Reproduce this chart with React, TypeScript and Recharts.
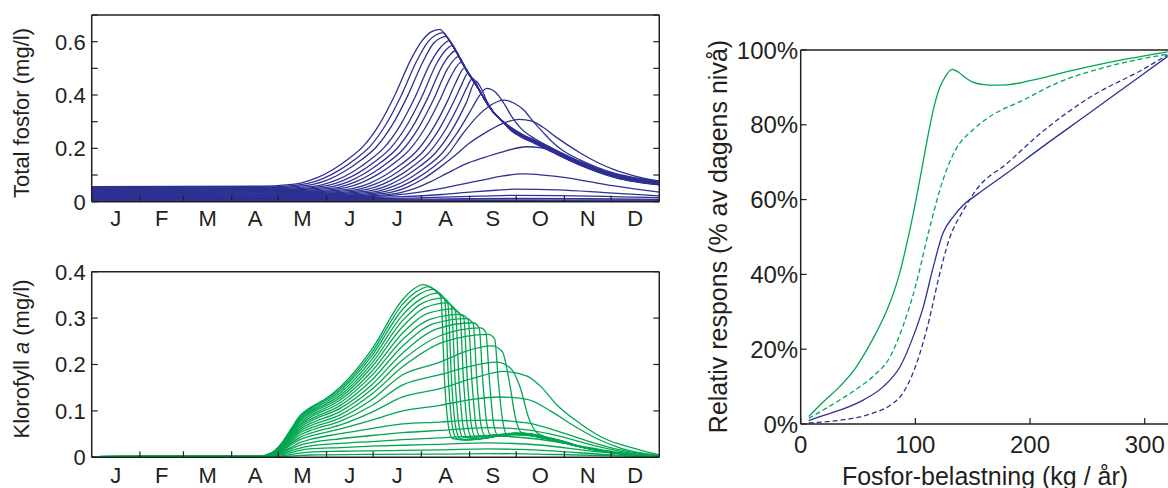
import { LineChart, Line, XAxis, YAxis } from 'recharts';

const BLUE = '#2E3192';
const GREEN = '#00A651';
const INK = '#231F20';
const FONT = '"Liberation Sans", Arial, Helvetica, sans-serif';

const monthLetters = ['J', 'F', 'M', 'A', 'M', 'J', 'J', 'A', 'S', 'O', 'N', 'D'];
const monthEdges = [31, 59, 90, 120, 151, 181, 212, 243, 273, 304, 334];
const monthMids = [15.5, 45, 74.5, 105, 135.5, 166, 196.5, 227.5, 258, 288.5, 319, 349.5];
const monthTicks = [...monthEdges, ...monthMids].sort((a, b) => a - b);

const fosforTicks = [0, 0.1, 0.2, 0.3, 0.4, 0.5, 0.6, 0.7];
const fosforLabels = [0, 0.2, 0.4, 0.6];
const klorofyllTicks = [0, 0.1, 0.2, 0.3, 0.4];
const responsTicks = [0, 20, 40, 60, 80, 100];
const belastningTicks = [0, 100, 200, 300];

// total fosfor (mg/l), [dag, värde], one array per belastning
const fosforCurves: [number, number][][] = [
  [[0,.056],[110,.058],[125,.063],[135,.071],[145,.090],[155,.120],[165,.160],[175,.210],[185,.290],[195,.400],[205,.530],[212,.600],[218,.636],[224,.646],[228,.620],[232,.586],[236,.545],[240,.503],[244,.465],[248,.430],[252,.390],[256,.353],[260,.325],[265,.298],[270,.277],[276,.255],[285,.230],[293,.207],[303,.178],[314,.149],[325,.124],[336,.103],[350,.086],[365,.075]],
  [[0,.0535],[114,.0555],[129,.0605],[139,.0685],[149,.0875],[159,.1175],[169,.1575],[179,.2075],[189,.2875],[199,.3975],[209,.5275],[216,.5975],[221,.624],[226,.634],[230,.604],[234,.566],[238,.524],[242,.482],[246,.450],[250,.410],[254,.370],[258,.338],[263,.308],[270,.276],[276,.254],[285,.229],[293,.206],[303,.177],[314,.148],[325,.123],[336,.102],[350,.085],[365,.074]],
  [[0,.051],[118,.053],[133,.058],[143,.066],[153,.085],[163,.115],[173,.155],[183,.205],[193,.285],[203,.395],[213,.525],[220,.595],[224,.613],[228,.620],[232,.586],[236,.545],[240,.503],[244,.465],[248,.430],[252,.390],[256,.353],[260,.325],[265,.298],[270,.275],[276,.253],[285,.228],[293,.205],[303,.176],[314,.147],[325,.122],[336,.101],[350,.084],[365,.073]],
  [[0,.0485],[123,.0505],[138,.0555],[148,.0635],[158,.0825],[168,.1125],[178,.1525],[188,.2025],[198,.2825],[208,.3925],[218,.5225],[225,.583],[230,.604],[234,.566],[238,.524],[242,.482],[246,.450],[250,.410],[254,.370],[258,.338],[263,.308],[270,.273],[276,.251],[285,.226],[293,.203],[303,.174],[314,.145],[325,.120],[336,.099],[350,.082],[365,.071]],
  [[0,.046],[127,.048],[142,.053],[152,.061],[162,.080],[172,.110],[182,.150],[192,.200],[202,.280],[212,.390],[222,.520],[227,.564],[232,.586],[236,.545],[240,.503],[244,.465],[248,.430],[252,.390],[256,.353],[260,.325],[265,.298],[270,.272],[276,.250],[285,.225],[293,.202],[303,.173],[314,.144],[325,.119],[336,.098],[350,.081],[365,.070]],
  [[0,.0435],[131,.0455],[146,.0505],[156,.0585],[166,.0775],[176,.1075],[186,.1475],[196,.1975],[206,.2775],[216,.3875],[226,.515],[230,.548],[234,.566],[238,.524],[242,.482],[246,.450],[250,.410],[254,.370],[258,.338],[263,.308],[270,.271],[276,.249],[285,.224],[293,.201],[303,.172],[314,.143],[325,.118],[336,.097],[350,.080],[365,.069]],
  [[0,.041],[135,.043],[150,.048],[160,.056],[170,.075],[180,.105],[190,.145],[200,.195],[210,.275],[220,.385],[229,.500],[236,.545],[240,.503],[244,.465],[248,.430],[252,.390],[256,.353],[260,.325],[265,.298],[270,.270],[276,.248],[285,.223],[293,.200],[303,.171],[314,.142],[325,.117],[336,.096],[350,.079],[365,.068]],
  [[0,.0385],[139,.0405],[154,.0455],[164,.0535],[174,.0725],[184,.1025],[194,.1425],[204,.1925],[214,.2725],[224,.3825],[231,.470],[238,.524],[242,.482],[246,.450],[250,.410],[254,.370],[258,.338],[263,.308],[270,.269],[276,.247],[285,.222],[293,.199],[303,.170],[314,.141],[325,.116],[336,.095],[350,.078],[365,.067]],
  [[0,.036],[144,.038],[159,.043],[169,.051],[179,.070],[189,.100],[199,.140],[209,.190],[219,.270],[229,.380],[234,.445],[240,.503],[244,.465],[248,.430],[252,.390],[256,.353],[260,.325],[265,.298],[270,.268],[276,.246],[285,.221],[293,.198],[303,.169],[314,.140],[325,.115],[336,.094],[350,.077],[365,.066]],
  [[0,.0335],[148,.0355],[163,.0405],[173,.0485],[183,.0675],[193,.0975],[203,.1375],[213,.1875],[223,.2675],[233,.3775],[238,.440],[242,.482],[246,.450],[250,.410],[254,.370],[258,.338],[263,.308],[270,.267],[276,.245],[285,.220],[293,.197],[303,.168],[314,.139],[325,.114],[336,.093],[350,.076],[365,.065]],
  [[0,.031],[152,.033],[167,.038],[177,.046],[187,.065],[197,.095],[207,.135],[217,.185],[227,.265],[237,.375],[241,.425],[245,.462],[250,.410],[254,.370],[258,.338],[263,.308],[270,.266],[276,.244],[285,.219],[293,.196],[303,.167],[314,.138],[325,.113],[336,.092],[350,.075],[365,.064]],
  [[0,.0285],[156,.0305],[171,.0355],[181,.0435],[191,.0625],[201,.0925],[211,.1325],[221,.1825],[231,.2625],[241,.3725],[247,.452],[251,.418],[254,.378],[258,.340],[263,.308],[270,.265],[276,.243],[285,.218],[293,.195],[303,.166],[314,.137],[325,.112],[336,.091],[350,.074],[365,.063]],
  [[0,.026],[160,.028],[175,.033],[185,.041],[195,.060],[205,.090],[215,.130],[225,.180],[235,.258],[245,.355],[249,.395],[254,.425],[258,.418],[262,.395],[266,.360],[270,.320],[276,.275],[285,.236],[293,.210],[303,.180],[314,.150],[325,.124],[336,.103],[350,.086],[365,.075]],
  [[0,.0235],[164,.0255],[179,.0305],[189,.0385],[199,.0575],[209,.0875],[219,.1275],[229,.1775],[239,.2575],[248,.320],[256,.360],[265,.381],[272,.368],[278,.343],[284,.300],[290,.262],[296,.225],[303,.192],[314,.157],[325,.129],[336,.107],[350,.089],[365,.077]],
  [[0,.021],[168,.023],[183,.028],[193,.036],[203,.055],[213,.085],[223,.125],[233,.170],[243,.220],[253,.258],[263,.290],[275,.309],[283,.302],[290,.280],[298,.245],[306,.213],[315,.180],[325,.148],[336,.120],[350,.095],[365,.077]],
  [[0,.0185],[172,.0205],[188,.0255],[198,.0335],[208,.050],[218,.075],[228,.105],[240,.140],[252,.165],[263,.185],[280,.206],[288,.203],[295,.195],[303,.178],[314,.149],[325,.124],[336,.103],[350,.086],[365,.074]],
  [[0,.016],[160,.017],[180,.020],[195,.025],[210,.035],[225,.050],[240,.068],[252,.082],[263,.095],[277,.104],[290,.100],[305,.090],[320,.075],[335,.060],[350,.047],[365,.036]],
  [[0,.0135],[170,.015],[200,.019],[225,.027],[245,.037],[260,.043],[272,.047],[300,.044],[330,.034],[365,.022]],
  [[0,.011],[180,.012],[220,.016],[250,.021],[270,.024],[300,.023],[335,.019],[365,.015]],
  [[0,.0085],[190,.009],[240,.011],[270,.0125],[320,.011],[365,.009]],
  [[0,.006],[200,.0062],[270,.0072],[365,.0055]],
  [[0,.0035],[270,.0042],[365,.003]],
];

// klorofyll a (mg/l), [dag, värde]
const klorofyllCurves: [number, number][][] = [
  [[0,.0015],[108,.0025],[116,.010],[122,.030],[128,.060],[134,.090],[140,.106],[150,.125],[160,.152],[180,.232],[200,.340],[206,.360],[213,.372],[218,.366],[222,.356],[224.5,.345],[227,.160],[229.5,.065],[232,.040],[240,.037],[250,.040],[262,.046],[272,.049],[282,.047],[292,.040],[303,.031],[314,.023],[327,.014],[340,.008],[352,.004],[365,.002]],
  [[0,.0015],[108,.0025],[116,.010],[122,.029],[128,.059],[134,.088],[140,.104],[160,.148],[180,.225],[200,.330],[208,.355],[217,.368],[222,.357],[227,.340],[229.5,.160],[232,.065],[234.5,.041],[240,.0375],[250,.040],[262,.046],[272,.049],[282,.047],[292,.040],[303,.031],[314,.023],[327,.014],[340,.008],[352,.004],[365,.002]],
  [[0,.0015],[108,.0025],[116,.0096],[122,.029],[128,.058],[134,.087],[140,.102],[160,.144],[180,.218],[200,.319],[210,.350],[220,.362],[225,.348],[229,.332],[231.5,.160],[234,.066],[236.5,.042],[240,.038],[250,.040],[262,.046],[272,.049],[282,.047],[292,.040],[303,.031],[314,.023],[327,.014],[340,.008],[352,.004],[365,.002]],
  [[0,.0015],[108,.0025],[116,.0093],[122,.028],[128,.056],[134,.084],[140,.099],[160,.139],[180,.210],[200,.307],[212,.342],[223,.354],[228,.337],[231.3,.325],[233.8,.160],[236.3,.066],[238.8,.043],[250,.041],[262,.047],[272,.050],[282,.048],[292,.041],[303,.032],[314,.023],[327,.014],[340,.008],[352,.004],[365,.002]],
  [[0,.0015],[108,.0025],[116,.009],[122,.027],[128,.054],[134,.082],[140,.096],[160,.134],[180,.202],[200,.295],[213,.333],[226,.343],[231,.328],[233.8,.318],[236.3,.160],[238.8,.067],[241.3,.043],[250,.041],[262,.047],[272,.050],[282,.048],[292,.041],[303,.032],[314,.023],[327,.014],[340,.008],[352,.004],[365,.002]],
  [[0,.0015],[108,.0025],[116,.0088],[122,.026],[128,.053],[134,.079],[140,.093],[160,.129],[180,.194],[200,.282],[214,.322],[229,.333],[234,.316],[236.7,.309],[239.2,.160],[241.7,.067],[244.2,.044],[250,.041],[262,.047],[272,.050],[282,.048],[292,.041],[303,.032],[314,.023],[327,.014],[340,.008],[352,.004],[365,.002]],
  [[0,.0015],[108,.0025],[116,.0084],[122,.025],[128,.050],[134,.076],[140,.089],[160,.124],[180,.185],[200,.268],[216,.310],[233,.320],[237,.308],[239.2,.302],[241.7,.160],[244.2,.068],[246.7,.045],[262,.048],[272,.051],[282,.049],[292,.042],[303,.033],[314,.023],[327,.014],[340,.008],[352,.004],[365,.002]],
  [[0,.0015],[108,.0025],[116,.008],[122,.024],[128,.048],[134,.072],[140,.085],[160,.118],[180,.176],[200,.254],[218,.298],[237,.308],[242.1,.296],[244.6,.160],[247.1,.069],[249.6,.046],[262,.048],[272,.051],[282,.049],[292,.042],[303,.033],[314,.023],[327,.014],[340,.008],[352,.004],[365,.002]],
  [[0,.0015],[108,.0025],[116,.0076],[122,.023],[128,.046],[134,.069],[140,.081],[160,.112],[180,.166],[200,.240],[220,.288],[241,.299],[245.3,.288],[247.8,.160],[250.3,.070],[252.8,.047],[262,.048],[272,.051],[282,.049],[292,.042],[303,.033],[314,.023],[327,.014],[340,.008],[352,.004],[365,.002]],
  [[0,.0015],[108,.0025],[116,.0073],[122,.022],[128,.044],[134,.065],[140,.077],[160,.106],[180,.156],[200,.225],[222,.277],[245,.290],[249.1,.280],[251.6,.160],[254.1,.072],[256.6,.048],[262,.049],[272,.052],[282,.050],[292,.043],[303,.034],[314,.023],[327,.014],[340,.008],[352,.004],[365,.002]],
  [[0,.0015],[108,.0025],[116,.0068],[122,.020],[128,.041],[134,.061],[140,.072],[160,.099],[180,.146],[200,.210],[224,.262],[250,.279],[253.4,.270],[255.9,.160],[258.4,.074],[260.9,.049],[272,.052],[282,.050],[292,.043],[303,.034],[314,.023],[327,.014],[340,.008],[352,.004],[365,.002]],
  [[0,.0015],[108,.0025],[116,.0063],[122,.019],[128,.038],[134,.057],[140,.067],[160,.092],[180,.136],[200,.195],[226,.248],[255,.265],[259.1,.255],[261.6,.160],[264.4,.076],[267.1,.050],[272,.052],[282,.050],[292,.043],[303,.034],[314,.023],[327,.014],[340,.008],[352,.004],[365,.002]],
  [[0,.0015],[108,.0025],[116,.0059],[122,.018],[128,.035],[134,.053],[140,.062],[160,.085],[180,.124],[200,.178],[224,.205],[240,.228],[257,.240],[264,.228],[268.7,.160],[272.5,.085],[276.5,.053],[282,.051],[292,.044],[303,.035],[314,.023],[327,.014],[340,.008],[352,.004],[365,.002]],
  [[0,.0015],[108,.0025],[116,.0054],[122,.016],[128,.032],[134,.048],[140,.057],[160,.078],[180,.111],[200,.156],[224,.178],[242,.195],[260,.205],[269,.193],[275.6,.150],[281,.085],[286,.054],[292,.044],[303,.035],[314,.023],[327,.014],[340,.008],[352,.004],[365,.002]],
  [[0,.0015],[108,.0025],[116,.0048],[122,.014],[128,.029],[134,.043],[140,.051],[160,.070],[180,.097],[200,.130],[224,.148],[245,.170],[265,.185],[280,.175],[288,.155],[300,.110],[314,.073],[330,.040],[346,.022],[365,.005]],
  [[0,.0015],[108,.002],[116,.0043],[122,.013],[128,.026],[134,.038],[140,.045],[160,.061],[180,.080],[200,.100],[224,.112],[245,.125],[262,.130],[280,.125],[295,.100],[310,.068],[325,.040],[340,.020],[365,.004]],
  [[0,.0015],[108,.002],[116,.0036],[122,.011],[128,.021],[134,.032],[140,.038],[160,.051],[180,.062],[200,.072],[224,.076],[240,.079],[256,.080],[280,.074],[300,.056],[320,.034],[340,.016],[365,.003]],
  [[0,.0015],[108,.002],[116,.003],[122,.009],[128,.018],[134,.026],[140,.031],[160,.040],[180,.047],[200,.053],[224,.058],[255,.064],[280,.059],[300,.046],[320,.028],[340,.013],[365,.002]],
  [[0,.0015],[108,.002],[116,.0025],[122,.007],[128,.014],[134,.020],[140,.024],[160,.030],[180,.034],[200,.038],[224,.042],[255,.046],[285,.040],[310,.027],[335,.012],[365,.002]],
  [[0,.0015],[110,.0018],[122,.005],[128,.010],[134,.015],[140,.018],[160,.021],[180,.024],[200,.026],[224,.028],[255,.031],[290,.026],[320,.014],[365,.0015]],
  [[0,.0015],[112,.0017],[122,.003],[128,.006],[134,.009],[140,.011],[160,.013],[200,.015],[224,.016],[255,.018],[295,.014],[330,.006],[365,.001]],
  [[0,.0012],[115,.0014],[125,.002],[134,.0042],[140,.005],[180,.0065],[224,.007],[255,.008],[300,.006],[365,.001]],
];

// relativ respons (%) mot fosforbelastning (kg/år)
const klorofyllRespons: [number, number][] = [[7,2],[20,6],[34,10],[47,14.6],[57,19.5],[66,24.5],[76,31],[86,40],[92,47.5],[98,56],[104,65.5],[110,75.5],[115.6,84],[121,89.8],[126,92.8],[132,94.8],[138,94],[144,92.5],[150,91.4],[158,90.8],[165,90.6],[180,90.7],[200,91.8],[238,94.6],[281,97.4],[320,99.5]];
const klorofyllResponsStreck: [number, number][] = [[7,1.5],[20,3.8],[34,6.4],[50,9.6],[63,12.7],[78,18],[89,26],[100,36.7],[112,51.9],[124,65.2],[135,73.3],[150,78.6],[165,82.2],[194,86.6],[223,91.1],[267,95.5],[320,98.9]];
const fosforRespons: [number, number][] = [[7,0.9],[20,2.3],[34,3.7],[54.5,6.4],[72,10],[86.6,15.3],[98,23.3],[107,31.4],[115.6,42],[124,51],[133,55.4],[142,58.6],[153,61.2],[180,67.1],[209,73.7],[253,83.4],[297,93.2],[320,98.3]];
const fosforResponsStreck: [number, number][] = [[7,0.3],[34,1],[50,1.8],[63,2.9],[78,5],[89,8.2],[100,15.3],[112,27.8],[120.6,39.4],[129.3,49.2],[142,57.2],[153,62.6],[180,69.7],[209,77.7],[253,87.5],[297,94.6],[320,98.7]];

const toPts = (arr: [number, number][]) => arr.map(([d, v]) => ({ d, v }));

const axisLine = { stroke: INK, strokeWidth: 1.5 };
const tickLine = { stroke: INK, strokeWidth: 1.2 };
const NoTick = () => <g />;

// month letters in the middle of each month, inward tick marks at month edges
const monthTick = (dy: number) => (p: any) => {
  const i = monthMids.indexOf(p.payload.value);
  if (i < 0) return <line x1={p.x} x2={p.x} y1={p.y} y2={p.y - 6} stroke={INK} strokeWidth={1.2} />;
  return (
    <text x={p.x} y={p.y + dy} textAnchor="middle" fontSize={22} fontFamily={FONT} fill={INK}>
      {monthLetters[i]}
    </text>
  );
};

const leftTick = (fmt: (v: number) => string, size: number) => (p: any) => (
  <text x={p.x} y={p.y} dy="0.36em" textAnchor="end" fontSize={size} fontFamily={FONT} fill={INK}>
    {fmt(p.payload.value)}
  </text>
);

const bottomTick = (p: any) => (
  <text x={p.x} y={p.y + 28.6} textAnchor="middle" fontSize={24} fontFamily={FONT} fill={INK}>
    {p.payload.value}
  </text>
);

function SeasonPanel({ curves, color, yMax, ticks, labels, top, marginTop, axisHeight, height, labelDy }: any) {
  return (
    <div style={{ position: 'absolute', left: 0, top }}>
      <LineChart width={660} height={height} margin={{ top: marginTop, right: 0.7, bottom: 0, left: 0 }}>
        <XAxis xAxisId="x" type="number" dataKey="d" domain={[0, 365]} allowDataOverflow ticks={monthTicks} interval={0} height={axisHeight} tickSize={0} tickMargin={0} tickLine={false} tick={monthTick(labelDy)} axisLine={axisLine} />
        <XAxis xAxisId="top" orientation="top" type="number" domain={[0, 365]} allowDataOverflow ticks={monthEdges} interval={0} mirror tickSize={6} tick={NoTick} axisLine={axisLine} tickLine={tickLine} />
        <YAxis yAxisId="y" type="number" domain={[0, yMax]} allowDataOverflow ticks={ticks} interval={0} mirror tickSize={6} tick={NoTick} axisLine={axisLine} tickLine={tickLine} />
        <YAxis yAxisId="r" orientation="right" type="number" domain={[0, yMax]} allowDataOverflow ticks={ticks} interval={0} mirror tickSize={6} tick={NoTick} axisLine={axisLine} tickLine={tickLine} />
        <YAxis yAxisId="lab" type="number" domain={[0, yMax]} allowDataOverflow ticks={labels} interval={0} width={91.7} tickSize={0} tickMargin={6} tickLine={false} axisLine={false} tick={leftTick((v) => String(v), 22)} />
        {curves.map((c: [number, number][], i: number) => (
          <Line key={i} data={toPts(c)} dataKey="v" xAxisId="x" yAxisId="y" type="monotone" dot={false} stroke={color} strokeWidth={1.3} isAnimationActive={false} />
        ))}
      </LineChart>
    </div>
  );
}

export default function App() {
  const resp = [
    { data: fosforResponsStreck, color: BLUE, dash: '5 3' },
    { data: fosforRespons, color: BLUE, dash: undefined },
    { data: klorofyllResponsStreck, color: GREEN, dash: '5 3' },
    { data: klorofyllRespons, color: GREEN, dash: undefined },
  ];
  return (
    <div style={{ position: 'absolute', left: 0, top: 0, width: 1168, height: 488, overflow: 'hidden', background: '#fff' }}>
      <SeasonPanel curves={fosforCurves} color={BLUE} yMax={0.7} ticks={fosforTicks} labels={fosforLabels} top={0} marginTop={15} axisHeight={30.3} height={232} labelDy={24.5} />
      <SeasonPanel curves={klorofyllCurves} color={GREEN} yMax={0.4} ticks={klorofyllTicks} labels={klorofyllTicks} top={250} marginTop={21.7} axisHeight={30.7} height={238} labelDy={25.5} />

      <div style={{ position: 'absolute', left: 690, top: 0 }}>
        <LineChart width={483.4} height={488} margin={{ top: 50, right: 0, bottom: 0, left: 0 }}>
          <XAxis xAxisId="x" type="number" dataKey="d" domain={[0, 325]} allowDataOverflow ticks={belastningTicks} interval={0} height={64} tickSize={-6} tickMargin={6} tick={bottomTick} axisLine={axisLine} tickLine={tickLine} />
          <XAxis xAxisId="top" orientation="top" type="number" domain={[0, 325]} allowDataOverflow ticks={[165]} interval={0} mirror tickSize={6} tick={NoTick} axisLine={axisLine} tickLine={tickLine} />
          <YAxis yAxisId="y" type="number" domain={[0, 100]} allowDataOverflow ticks={responsTicks} interval={0} mirror tickSize={6} tick={NoTick} axisLine={axisLine} tickLine={tickLine} />
          <YAxis yAxisId="lab" type="number" domain={[0, 100]} allowDataOverflow ticks={responsTicks} interval={0} width={110.7} tickSize={0} tickMargin={2.5} tickLine={false} axisLine={false} tick={leftTick((v) => `${v}%`, 24)} />
          {resp.map((r, i) => (
            <Line key={i} data={toPts(r.data)} dataKey="v" xAxisId="x" yAxisId="y" type="monotone" dot={false} stroke={r.color} strokeWidth={1.3} strokeDasharray={r.dash} isAnimationActive={false} />
          ))}
        </LineChart>
      </div>

      <svg width={1168} height={488} style={{ position: 'absolute', left: 0, top: 0, pointerEvents: 'none' }} fontFamily={FONT} fill={INK}>
        <text x={28.7} y={113} fontSize={22} textAnchor="middle" transform="rotate(-90 28.7 113)">Total fosfor (mg/l)</text>
        <text x={28.7} y={359} fontSize={22} textAnchor="middle" transform="rotate(-90 28.7 359)">
          Klorofyll <tspan fontStyle="italic">a</tspan> (mg/l)
        </text>
        <text x={726.7} y={236.5} fontSize={25} textAnchor="middle" transform="rotate(-90 726.7 236.5)">Relativ respons (% av dagens nivå)</text>
        <text x={985} y={485} fontSize={25} textAnchor="middle">Fosfor-belastning (kg / år)</text>
      </svg>
    </div>
  );
}
